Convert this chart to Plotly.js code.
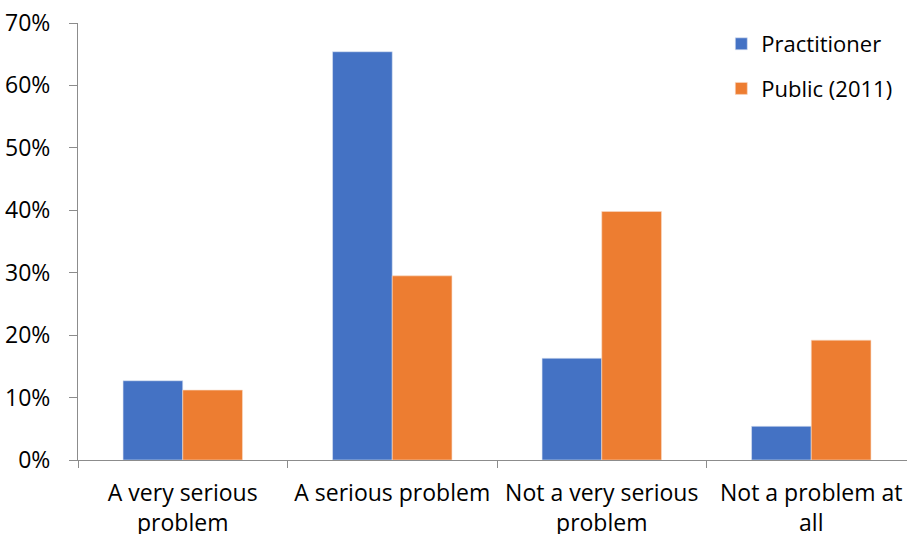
<!DOCTYPE html>
<html>
<head>
<meta charset="utf-8">
<script src="https://cdn.plot.ly/plotly-3.0.1.min.js"></script>
<style>html,body{margin:0;padding:0;background:#fff;}#chart{width:907px;height:534px;}</style>
</head>
<body>
<div id="chart"></div>
<script>
const categories = ["A very serious<br>problem", "A serious problem", "Not a very serious<br>problem", "Not a problem at<br>all"];
const practitioner = [12.7, 65.4, 16.3, 5.4];
const publicVals = [11.2, 29.5, 39.8, 19.2];
const seriesNames = ["Practitioner", "Public (2011)"];
const yTicks = [0, 10, 20, 30, 40, 50, 60, 70];
const yTickText = yTicks.map(v => v + "%");

const fontFamily = "'Open Sans', 'Noto Sans', sans-serif";
const axisColor = "#8c8c8c";

const traces = [
  {type: "bar", name: seriesNames[0], x: categories, y: practitioner,
   marker: {color: "#4472C4", line: {color: "#dce4f2", width: 0.6}}, legendgroup: "a", hoverinfo: "skip"},
  {type: "bar", name: seriesNames[1], x: categories, y: publicVals,
   marker: {color: "#ED7D31", line: {color: "#f8dcc8", width: 0.6}}, legendgroup: "b", hoverinfo: "skip"}
];

const layout = {
  width: 907, height: 534,
  margin: {l: 78, r: 0, t: 23, b: 74, pad: 0},
  paper_bgcolor: "#fff", plot_bgcolor: "#fff",
  font: {family: fontFamily, size: 23, color: "#000"},
  barmode: "group", bargap: 0.43, bargroupgap: 0,
  showlegend: true,
  legend: {x: 0.776, xanchor: "left", y: 1.0, yanchor: "top", font: {size: 22},
           tracegroupgap: 13, bgcolor: "rgba(0,0,0,0)", traceorder: "grouped"},
  xaxis: {type: "category", range: [-0.5, 3.457], tickson: "boundaries",
          ticks: "outside", ticklen: 7, tickcolor: axisColor, tickwidth: 1,
          showline: true, linecolor: axisColor, linewidth: 1,
          showgrid: false, zeroline: false, tickfont: {size: 23}, ticklabelstandoff: 12,
          automargin: false},
  yaxis: {range: [0, 70], tickvals: yTicks, ticktext: yTickText,
          ticks: "outside", ticklen: 8, tickcolor: axisColor, tickwidth: 1,
          showline: true, linecolor: axisColor, linewidth: 1,
          showgrid: false, zeroline: false, tickfont: {size: 23}, ticklabelstandoff: 14,
          automargin: false}
};

Plotly.newPlot("chart", traces, layout, {staticPlot: true, displayModeBar: false});
</script>
</body>
</html>
